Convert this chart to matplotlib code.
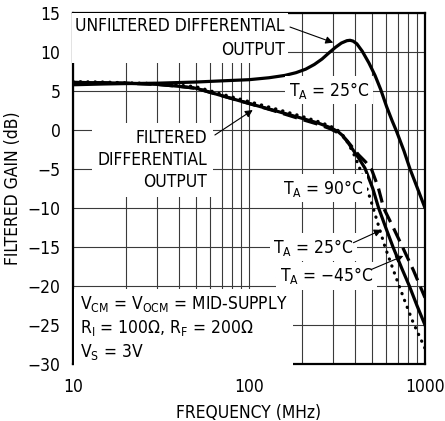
import matplotlib
matplotlib.use("Agg")
import matplotlib.pyplot as plt
from matplotlib import font_manager
from matplotlib.ticker import FixedLocator, NullFormatter

# ---------------- data ----------------
f_unf = [10, 15, 20, 30, 50, 70, 100, 130, 160, 185, 210, 235, 260, 285, 310, 335, 360, 375,
         390, 410, 440, 480, 520, 560, 605, 650, 690, 760, 822, 900, 1000]
g_unf = [5.8, 5.9, 5.95, 6.0, 6.15, 6.3, 6.45, 6.7, 7.0, 7.35, 7.8, 8.4, 9.1, 9.9, 10.6, 11.15, 11.45, 11.5,
         11.4, 11.05, 10.1, 8.6, 7.0, 5.2, 3.0, 1.2, -0.2, -2.7, -5.0, -7.3, -10.0]

f_25 = [10, 15, 20, 30, 40, 50, 70, 100, 137, 200, 250, 290, 320, 340, 360, 383, 420, 456, 505, 545,
        598, 658, 740, 815, 900, 1000]
g_25 = [6.1, 6.05, 6.0, 5.85, 5.6, 5.35, 4.4, 3.4, 2.55, 1.5, 0.85, 0.3, -0.2, -0.7, -1.4, -2.3, -3.6,
        -4.9, -7.5, -10.0, -12.5, -15.0, -17.8, -20.0, -22.5, -25.0]

f_m45 = [10, 15, 20, 30, 40, 50, 70, 100, 137, 200, 250, 290, 320, 340, 360, 383, 420, 460, 498, 543, 582,
         660, 745, 860, 1000]
g_m45 = [6.1, 6.05, 6.0, 5.85, 5.6, 5.35, 4.4, 3.4, 2.5, 1.35, 0.7, 0.15, -0.35, -0.8, -1.35, -2.1, -3.2,
         -4.1, -5.1, -7.4, -10.0, -12.5, -15.0, -18.0, -21.5]

f_90 = [10, 15, 20, 30, 40, 50, 70, 100, 137, 200, 250, 290, 320, 345, 370, 400, 437, 483, 505, 540,
        593, 650, 705, 776, 857, 1000]
g_90 = [6.2, 6.15, 6.05, 5.95, 5.75, 5.55, 4.6, 3.65, 2.8, 1.75, 1.05, 0.5, -0.05, -0.8, -1.9, -3.4,
        -5.55, -8.46, -9.83, -12.0, -15.0, -17.5, -19.7, -22.2, -24.7, -28.0]

x_ticks = [10, 100, 1000]
x_ticklabels = ["10", "100", "1000"]
x_minor = [20, 30, 40, 50, 60, 70, 80, 90, 200, 300, 400, 500, 600, 700, 800, 900]
y_ticks = [15, 10, 5, 0, -5, -10, -15, -20, -25, -30]
y_ticklabels = ["15", "10", "5", "0", "\u22125", "\u221210", "\u221215", "\u221220", "\u221225", "\u221230"]

# ---------------- fonts ----------------
fam = None
stretch = 'normal'
entries = font_manager.fontManager.ttflist
for e in entries:
    if e.name == "Liberation Sans Narrow" and e.weight in (400, 'normal') and e.style == 'normal':
        fam = e.name
        break
if fam is None:
    for e in entries:
        if 'DejaVuSansCondensed.ttf' in e.fname:
            fam = e.name
            stretch = e.stretch
            break
FS = 12.5
if fam is None:
    fam = 'Liberation Sans'
    FS = 10.5

plt.rcParams['font.family'] = [fam, 'DejaVu Sans']
plt.rcParams['font.stretch'] = stretch
plt.rcParams['mathtext.fontset'] = 'custom'
patt = fam if stretch == 'normal' else f"{fam}:stretch={stretch}"
plt.rcParams['mathtext.rm'] = patt
plt.rcParams['mathtext.it'] = patt
plt.rcParams['mathtext.default'] = 'regular'

fig = plt.figure(figsize=(4.45, 4.21), dpi=100)
ax = fig.add_axes([73/445, 1 - 364/421, (425-73)/445, (364-13)/421])

ax.set_xscale('log')
ax.set_xlim(10, 1000)
ax.set_ylim(-30, 15)

ax.xaxis.set_major_locator(FixedLocator(x_ticks))
ax.set_xticklabels(x_ticklabels)
ax.xaxis.set_minor_locator(FixedLocator(x_minor))
ax.xaxis.set_minor_formatter(NullFormatter())
ax.set_yticks(y_ticks)
ax.set_yticklabels(y_ticklabels)

ax.grid(True, which='both', color='#3a3a3a', lw=0.8)
ax.set_axisbelow(True)
ax.tick_params(which='both', length=0, labelsize=FS)
ax.tick_params(axis='x', pad=10)
ax.tick_params(axis='y', pad=9)
for s in ax.spines.values():
    s.set_linewidth(1.6)
    s.set_color('black')

LW = 2.3
ax.plot(f_unf, g_unf, color='black', lw=LW, solid_capstyle='round', zorder=4)
ax.plot(f_25, g_25, color='black', lw=LW, zorder=4)
ax.plot(f_m45, g_m45, color='black', lw=LW, dashes=(4.5, 2.2), zorder=4)
ax.plot(f_90, g_90, color='black', lw=LW, linestyle=(0, (0.1, 2.2)), dash_capstyle='round', zorder=4)

ax.set_xlabel("FREQUENCY (MHz)", fontsize=FS, labelpad=6)
ax.set_ylabel("FILTERED GAIN (dB)", fontsize=FS, labelpad=4)

box = dict(facecolor='white', edgecolor='none', pad=2.5)
arrow = dict(arrowstyle='-|>', color='black', lw=0.8, mutation_scale=11, shrinkA=0, shrinkB=0)

ax.text(160, 11.8, "UNFILTERED DIFFERENTIAL\nOUTPUT", ha='right', va='center',
        multialignment='right', fontsize=FS, linespacing=1.45, bbox=box, zorder=5)
ax.annotate("", xy=(301, 11.2), xytext=(171, 13.2), arrowprops=arrow, zorder=6)

ax.text(285, 5.1, "T$_A$ = 25°C", ha='center', va='center', fontsize=FS, bbox=box, zorder=5)

ax.text(57.7, -3.85, "FILTERED\nDIFFERENTIAL\nOUTPUT", ha='right', va='center',
        multialignment='right', fontsize=FS, linespacing=1.3,
        bbox=dict(facecolor='white', edgecolor='none', pad=4), zorder=5)
ax.annotate("", xy=(105, 2.56), xytext=(64, -0.64), arrowprops=arrow, zorder=6)

ax.text(265, -7.44, "T$_A$ = 90°C", ha='center', va='center', fontsize=FS, bbox=box, zorder=5)
ax.text(232, -15.0, "T$_A$ = 25°C", ha='center', va='center', fontsize=FS, bbox=box, zorder=5)
ax.annotate("", xy=(567, -12.8), xytext=(392, -14.45), arrowprops=arrow, zorder=6)
ax.text(275, -18.7, "T$_A$ = \u221245°C", ha='center', va='center', fontsize=FS, bbox=box, zorder=5)
ax.annotate("", xy=(753, -16.15), xytext=(498, -17.86), arrowprops=arrow, zorder=6)

ax.text(10.96, -25.4,
        "V$_{CM}$ = V$_{OCM}$ = MID-SUPPLY\nR$_I$ = 100\u03a9, R$_F$ = 200\u03a9\nV$_S$ = 3V",
        ha='left', va='center', fontsize=FS, linespacing=1.25,
        bbox=dict(facecolor='white', edgecolor='none', pad=4), zorder=5)

fig.savefig("out.png", dpi=100)
